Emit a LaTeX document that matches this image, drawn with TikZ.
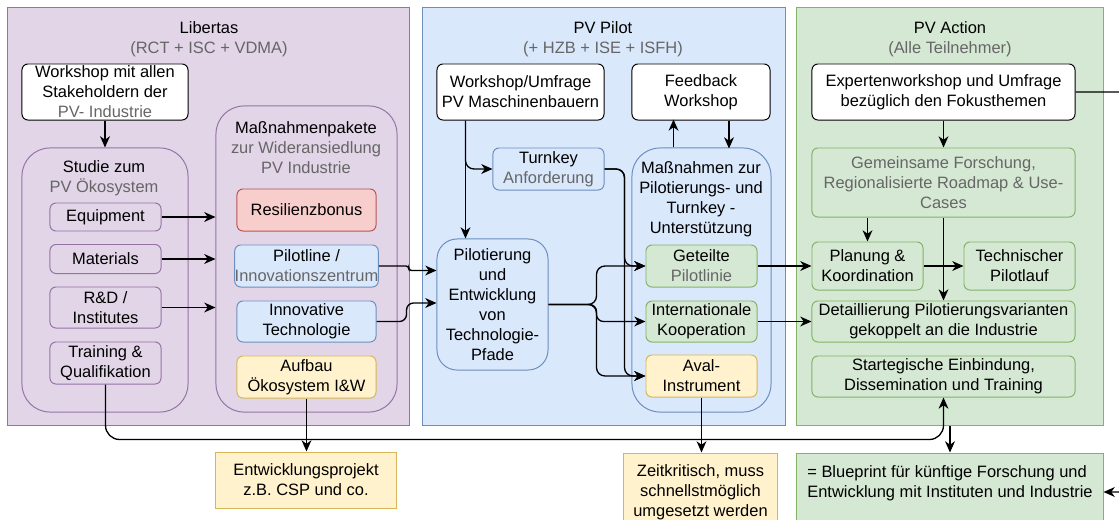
\documentclass[tikz,border=0pt]{standalone}
\usepackage{fontspec}
\setmainfont{Liberation Sans}
\usepackage{xcolor}
\definecolor{purpleF}{HTML}{E1D5E7}
\definecolor{purpleD}{HTML}{9673A6}
\definecolor{blueF}{HTML}{DAE8FC}
\definecolor{blueD}{HTML}{6C8EBF}
\definecolor{greenF}{HTML}{D5E8D4}
\definecolor{greenD}{HTML}{82B366}
\definecolor{redF}{HTML}{F8CECC}
\definecolor{redD}{HTML}{B85450}
\definecolor{yellowF}{HTML}{FFF2CC}
\definecolor{yellowD}{HTML}{D6B656}
\definecolor{txtgray}{HTML}{666666}
\usepackage{tikz}
\usetikzlibrary{calc,arrows.meta}

\begin{document}
\begin{tikzpicture}[x=0.025cm, y=-0.025cm, >={Stealth[length=8pt,width=7pt,inset=2.5pt]},
    every node/.style={font=\fontsize{11.7}{14.2}\selectfont, align=center, inner sep=0pt},
    panel/.style={draw, rectangle, line width=0.7pt},
    frame/.style={draw, rounded corners=0.7cm, line width=0.7pt},
    box/.style={draw, rounded corners=0.15cm, line width=0.7pt},
    wbox/.style={box, fill=white, draw=black},
    pbox/.style={box, draw=purpleD},
    bbox/.style={box, fill=blueF, draw=blueD},
    gbox/.style={box, fill=greenF, draw=greenD},
    ybox/.style={box, fill=yellowF, draw=yellowD},
    conn/.style={->, line width=0.95pt, rounded corners=6pt}]
    \useasboundingbox (0,0) rectangle (1119,520);

    % Libertas
    \node[panel, fill=purpleF, draw=purpleD, minimum width=10.05cm, minimum height=10.425cm] (libertas) at (208.5,216.5) {};
    \node (libT) at (209,39) {Libertas\\\textcolor{txtgray}{(RCT + ISC + VDMA)}};
    \node[wbox, minimum width=4.15cm, minimum height=1.4cm] (wsL) at (105,92) {Workshop mit allen\\Stakeholdern der\\\textcolor{txtgray}{PV- Industrie}};
    \node[frame, draw=purpleD, minimum width=4.15cm, minimum height=6.6cm] (studie) at (105,280) {};
    \node (studieT) at (104,178) {Studie zum\\\textcolor{txtgray}{PV Ökosystem}};
    \node[pbox, minimum width=2.775cm, minimum height=0.7cm] (equip) at (105.5,217) {Equipment};
    \node[pbox, minimum width=2.775cm, minimum height=0.725cm] (mat) at (105.5,259) {Materials};
    \node[pbox, minimum width=2.775cm, minimum height=1.025cm] (rnd) at (105.5,307.5) {R\&D /\\Institutes};
    \node[pbox, minimum width=2.775cm, minimum height=1.05cm] (train) at (105.5,363) {Training \&\\Qualifikation};
    \node[frame, draw=purpleD, minimum width=4.525cm, minimum height=7.65cm] (mass) at (306.5,259) {};
    \node (massT) at (306,148) {Maßnahmenpakete\\\textcolor{txtgray}{zur Wideransiedlung}\\\textcolor{txtgray}{PV Industrie}};
    \node[box, fill=redF, draw=redD, minimum width=3.475cm, minimum height=1.05cm] (resil) at (306.5,210) {Resilienzbonus};
    \node[bbox, minimum width=3.475cm, minimum height=1.05cm] (pline) at (306.5,266) {Pilotline /\\\textcolor{txtgray}{Innovationszentrum}};
    \node[bbox, minimum width=3.475cm, minimum height=1.025cm] (innov) at (306.5,321.5) {Innovative\\Technologie};
    \node[ybox, minimum width=3.475cm, minimum height=1.05cm] (aufbau) at (306.5,377) {Aufbau\\Ökosystem I\&W};

    % PV Pilot
    \node[panel, fill=blueF, draw=blueD, minimum width=9.05cm, minimum height=10.425cm] (pilot) at (604,216.5) {};
    \node (pilotT) at (603,39) {PV Pilot\\\textcolor{txtgray}{(+ HZB + ISE + ISFH)}};
    \node[wbox, minimum width=4.175cm, minimum height=1.4cm] (wsP) at (520.5,92) {Workshop/Umfrage\\PV Maschinenbauern};
    \node[wbox, minimum width=3.45cm, minimum height=1.4cm] (feedback) at (701,92) {Feedback\\Workshop};
    \node[bbox, minimum width=2.775cm, minimum height=1.05cm] (turnkey) at (548.5,169) {Turnkey\\\textcolor{txtgray}{Anforderung}};
    \node[frame, draw=blueD, minimum width=3.475cm, minimum height=6.6cm] (massP) at (701.5,280) {};
    \node (massPT) at (701,199) {Maßnahmen zur\\Pilotierungs- und\\Turnkey -\\Unterstützung};
    \node[bbox, rounded corners=0.5cm, minimum width=2.775cm, minimum height=3.275cm] (pilotier) at (492.5,304.5) {Pilotierung\\und\\Entwicklung\\von\\Technologie-\\Pfade};
    \node[gbox, minimum width=2.775cm, minimum height=1.05cm] (geteilt) at (701.5,266) {Geteilte\\\textcolor{txtgray}{Pilotlinie}};
    \node[gbox, minimum width=2.775cm, minimum height=1.025cm] (intl) at (701.5,321.5) {Internationale\\Kooperation};
    \node[ybox, minimum width=2.775cm, minimum height=1.05cm] (aval) at (701.5,376) {Aval-\\Instrument};

    % PV Action
    \node[panel, fill=greenF, draw=greenD, minimum width=7.65cm, minimum height=10.425cm] (action) at (950,216.5) {};
    \node (actionT) at (950,39) {PV Action\\\textcolor{txtgray}{(Alle Teilnehmer)}};
    \node[wbox, minimum width=6.575cm, minimum height=1.4cm] (expert) at (943.5,92) {Expertenworkshop und Umfrage\\bezüglich den Fokusthemen};
    \node[box, draw=greenD, text=txtgray, minimum width=6.575cm, minimum height=1.725cm] (gemein) at (943.5,182.5) {Gemeinsame Forschung,\\Regionalisierte Roadmap \& Use-\\Cases};
    \node[box, draw=greenD, minimum width=2.775cm, minimum height=1.2cm] (planung) at (867.5,266) {Planung \&\\Koordination};
    \node[box, draw=greenD, minimum width=2.775cm, minimum height=1.2cm] (techn) at (1019.5,266) {Technischer\\Pilotlauf};
    \node[box, draw=greenD, minimum width=6.575cm, minimum height=1.025cm] (detail) at (943.5,321.5) {Detaillierung Pilotierungsvarianten\\gekoppelt an die Industrie};
    \node[box, draw=greenD, minimum width=6.575cm, minimum height=1.025cm] (strat) at (943.5,376.5) {Startegische Einbindung,\\Dissemination und Training};

    % Results
    \node[panel, fill=yellowF, draw=yellowD, minimum width=4.5cm, minimum height=1.4cm] (entw) at (306,480) {Entwicklungsprojekt\\z.B. CSP und co.};
    \node[panel, fill=yellowF, draw=yellowD, minimum width=3.825cm, minimum height=1.95cm] (zeit) at (700.5,492) {Zeitkritisch, muss\\schnellstmöglich\\umgesetzt werden};
    \node[panel, fill=greenF, draw=greenD, align=left, minimum width=7.65cm, minimum height=1.95cm] (blue) at (950,492) {= Blueprint für künftige Forschung und\\Entwicklung mit Instituten und Industrie\\\mbox{}};

    % Connectors Libertas
    \draw[conn] (wsL) -- (studie);
    \draw[conn] (equip.east) -- (equip.east -| mass.west);
    \draw[conn] (mat.east) -- (mat.east -| mass.west);
    \draw[conn] (rnd.east) -- (rnd.east -| mass.west);
    \draw[conn, rounded corners=2pt] (pline.east) -- ++(30,0) |- ($(pilotier.west)+(0,-34)$);
    \draw[conn, rounded corners=5pt] (innov.east) -- ++(30,0) |- ($(pilotier.west)+(0,-1.5)$);
    \draw[conn] (aufbau.south) -- (aufbau.south |- entw.north);

    % Connectors PV Pilot
    \coordinate (wsPout) at ($(wsP.south west)+(29,0)$);
    \draw[conn] (wsPout) -- (wsPout |- pilotier.north);
    \draw[conn] (wsPout) |- (turnkey.west);
    \draw[conn] ($(massP.north)+(-28,0)$) -- ++(0,-28);
    \draw[conn] ($(feedback.south)+(28,0)$) -- ++(0,28);
    \draw[conn] (turnkey.east) -| ($(geteilt.west)+(-21,0)$) -- (geteilt.west);
    \draw[conn] (turnkey.east) -| ($(aval.west)+(-21,0)$) -- (aval.west);
    \draw[conn] (pilotier.east) -| ($(geteilt.west)+(-49,0)$) -- (geteilt.west);
    \draw[conn, rounded corners=5pt] (pilotier.east) -| ($(intl.west)+(-49,0)$) -- (intl.west);
    \draw[conn] (pilotier.east) -| ($(aval.west)+(-49,0)$) -- (aval.west);
    \draw[conn] (geteilt.east) -- (geteilt.east -| planung.west);
    \draw[conn] (intl.east) -- (intl.east -| detail.west);
    \draw[conn] (aval.south) -- (aval.south |- zeit.north);

    % Connectors PV Action
    \draw[conn] (expert) -- (gemein);
    \draw[conn] (gemein.south -| planung.north) -- (planung.north);
    \draw[conn] (gemein) -- (detail);
    \draw[conn] (planung) -- (techn);
    \draw[conn] (expert.east) -- ++(70,0) |- (blue.east);
    \draw[conn, rounded corners=10pt] (train.south) |- ($(strat.south)+(0,42)$) -- (strat.south);
    \draw[conn] (action) -- (blue);
\end{tikzpicture}
\end{document}
